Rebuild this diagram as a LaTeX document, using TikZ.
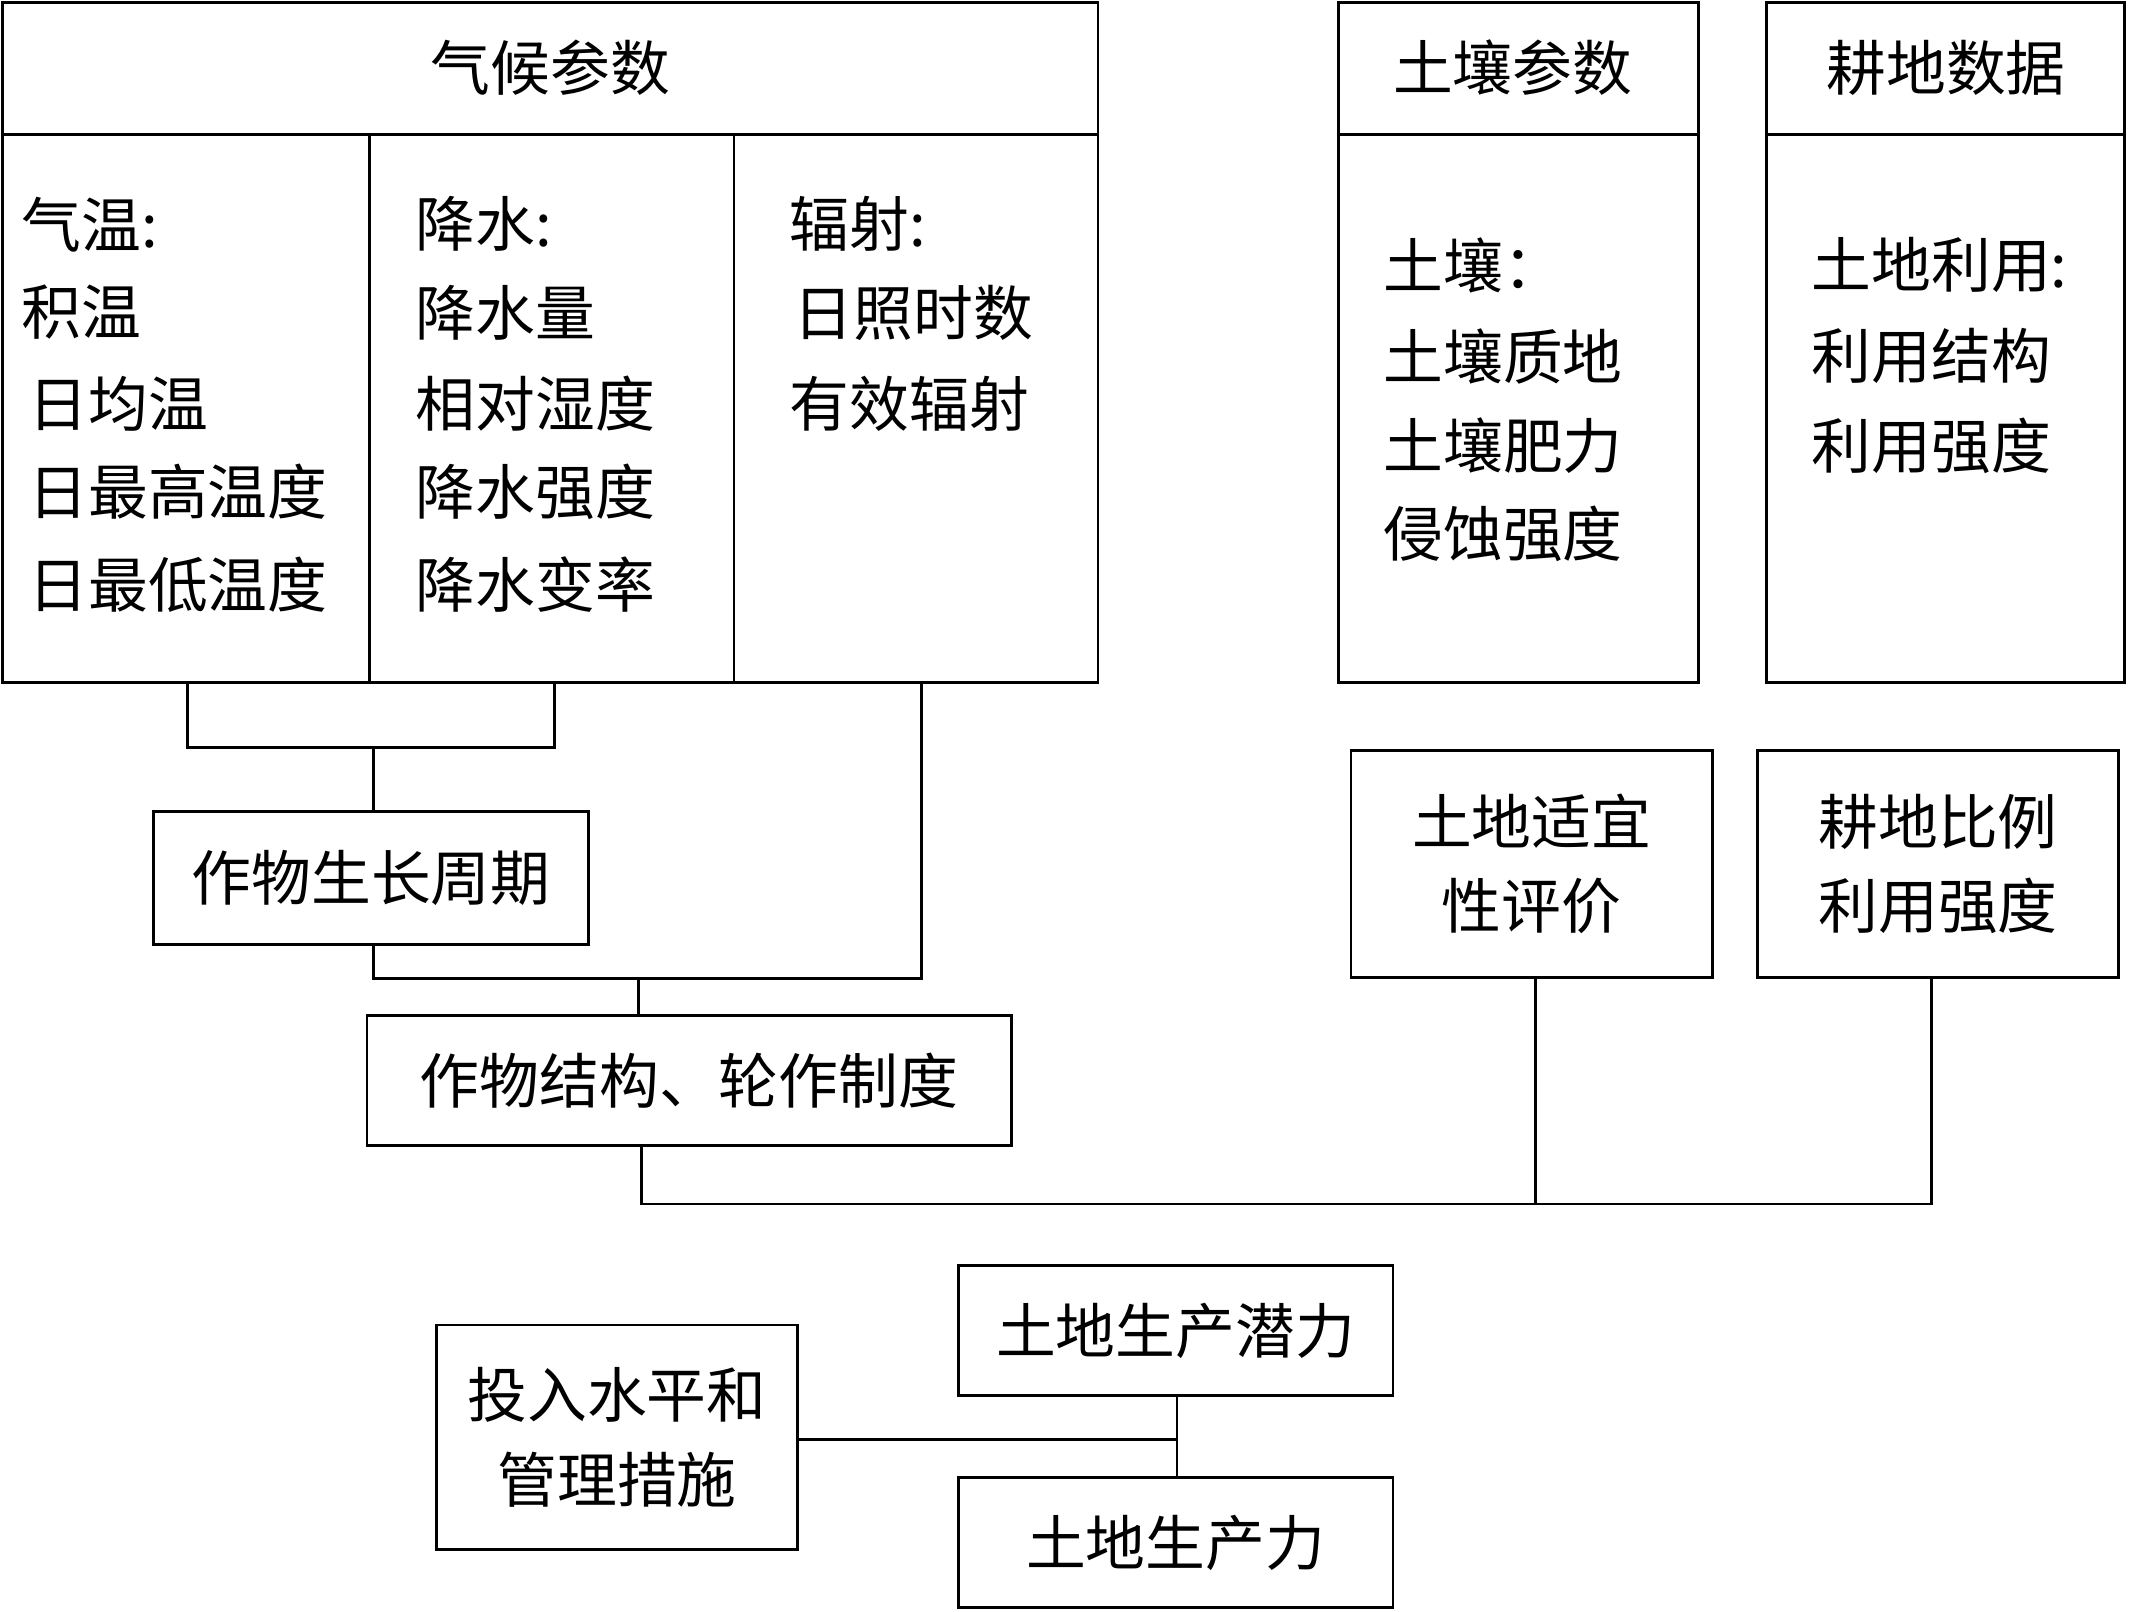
\documentclass[tikz,border=0pt]{standalone}
\usepackage{fontspec}
\newfontfamily\cjk{Noto Sans CJK SC}
\begin{document}
\begin{tikzpicture}[x=0.5pt,y=-0.5pt,line width=1pt,
  box/.style={draw,inner sep=0pt,font=\cjk\fontsize{22}{31}\selectfont,align=center},
  txt/.style={anchor=west,inner sep=0pt,font=\cjk\fontsize{22}{31}\selectfont},
  ln/.style={draw,line width=1pt}]
\useasboundingbox (0,0) rectangle (1568,1186);
% climate
\draw (2,2) rectangle (808,502);
\draw (2,99) -- (808,99) (272,99) -- (272,502) (540,99) -- (540,502);
\node[txt,anchor=center] (clim) at (405,50) {气候参数};
\foreach \t/\x/\y [count=\i] in {气温:/15/165,积温/15/230,日均温/20/297,日最高温度/20/362,日最低温度/20/430,
  降水:/305/165,降水量/305/230,相对湿度/305/297,降水强度/305/362,降水变率/305/430,
  辐射:/580/165,日照时数/583/230,有效辐射/580/297}
  \node[txt] (c\i) at (\x,\y) {\t};
% soil
\draw (985,2) rectangle (1250,502); \draw (985,99) -- (1250,99);
\node[txt,anchor=center] (soil) at (1113,50) {土壤参数};
\foreach \t/\y [count=\i] in {土壤：/195,土壤质地/262,土壤肥力/328,侵蚀强度/393}
  \node[txt] (s\i) at (1017,\y) {\t};
% farmland
\draw (1300,2) rectangle (1563,502); \draw (1300,99) -- (1563,99);
\node[txt,anchor=center] (farm) at (1432,50) {耕地数据};
\foreach \t/\y [count=\i] in {土地利用:/195,利用结构/262,利用强度/328}
  \node[txt] (f\i) at (1332,\y) {\t};
% boxes
\node[box,minimum width=160pt,minimum height=49pt] (cyc) at (273,646) {作物生长周期};
\node[box,minimum width=237pt,minimum height=48pt] (str) at (507,795) {作物结构、轮作制度};
\node[box,minimum width=133pt,minimum height=83.5pt] (suit) at (1127,635.5) {土地适宜\\性评价};
\node[box,minimum width=133pt,minimum height=83.5pt] (ratio) at (1426,635.5) {耕地比例\\利用强度};
\node[box,minimum width=160pt,minimum height=48pt] (pot) at (865,979) {土地生产潜力};
\node[box,minimum width=160pt,minimum height=48pt] (prod) at (865,1135) {土地生产力};
\node[box,minimum width=133pt,minimum height=82.5pt] (inp) at (454,1057.5) {投入水平和\\管理措施};
% connectors
\coordinate (a1) at (138,502); \coordinate (a2) at (408,502); \coordinate (a3) at (678,502);
\draw (a1) -- (138,550) -- (408,550) -- (a2);
\draw (275,550) -- (cyc.north -| 275,0);
\draw (cyc.south -| 275,0) -- (275,720) -- (678,720) -- (a3);
\draw (470,720) -- (str.north -| 470,0);
\draw (str.south -| 472,0) -- (472,886) -- (1421,886) -- (ratio.south -| 1421,0);
\draw (1130,886) -- (suit.south -| 1130,0);
\draw (inp.east |- 0,1059) -- (866,1059);
\draw (pot.south -| 866,0) -- (prod.north -| 866,0);
\end{tikzpicture}
\end{document}
